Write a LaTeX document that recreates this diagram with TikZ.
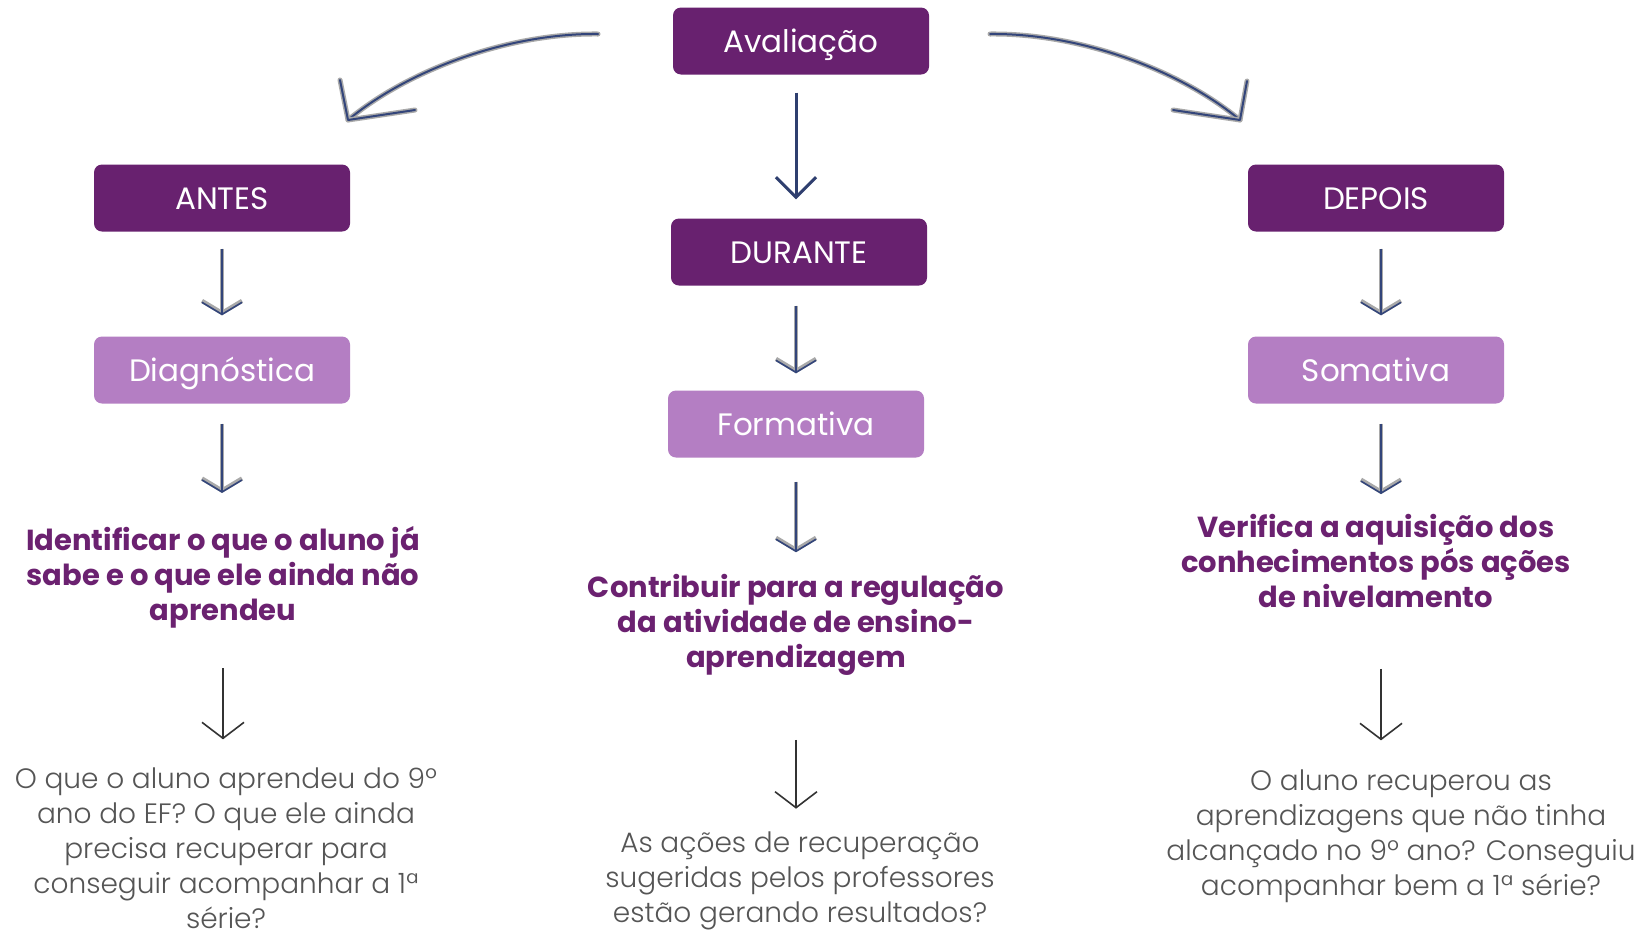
\documentclass[tikz,border=0pt]{standalone}
\usepackage{fontspec}
\setmainfont{Poppins}
\newfontfamily\lightfont{Poppins Light}
\usetikzlibrary{arrows.meta}
\definecolor{darkpurple}{HTML}{68216F}
\definecolor{lightpurple}{HTML}{B47EC3}
\definecolor{boldpurple}{HTML}{6B2170}
\definecolor{graytext}{HTML}{555555}
\definecolor{arrowblue}{HTML}{33457A}
\definecolor{halo}{HTML}{A9A9A9}
\definecolor{bigblue}{HTML}{2F3F6F}
\definecolor{darkline}{HTML}{333333}
\tikzset{
  boxbase/.style={rounded corners=8pt, minimum width=256pt, minimum height=67pt, text=white, font=\fontsize{31}{36}\selectfont, inner sep=0pt, text height=22pt, text depth=0pt},
  darkbox/.style={boxbase, fill=darkpurple},
  lightbox/.style={boxbase, fill=lightpurple},
  boldtext/.style={text=boldpurple, align=center, inner sep=0pt, font=\fontsize{29}{35}\selectfont\bfseries},
  graytxt/.style={text=graytext, align=center, inner sep=0pt, font=\fontsize{28}{35}\selectfont\lightfont},
  smallarrow/.style={draw=arrowblue, line width=1.6pt, -{Straight Barb[length=12pt,width=40pt]},
     preaction={draw=halo, line width=4.2pt, -{Straight Barb[length=12pt,width=40pt]}}},
  bigarrow/.style={draw=bigblue, line width=3pt, -{Straight Barb[length=20pt,width=40pt]}},
  blackarrow/.style={draw=darkline, line width=1.6pt, -{Straight Barb[length=16pt,width=42pt]}},
  curvearrow/.style={draw=arrowblue, line width=2pt, line cap=round, line join=round,
     preaction={draw=halo, line width=5pt, line cap=round, line join=round}}
}
\begin{document}
\begin{tikzpicture}[x=1pt, y=-1pt]
\useasboundingbox[fill=white] (0,0) rectangle (1649,935);

% boxes
\node[darkbox] (aval) at (801,41) {Avaliação};
\node[darkbox] (antes) at (222,198) {ANTES};
\node[darkbox] (durante) at (799,252) {DURANTE};
\node[darkbox] (depois) at (1376,198) {DEPOIS};
\node[lightbox] (diag) at (222,370) {Diagnóstica};
\node[lightbox] (form) at (796,424) {Formativa};
\node[lightbox] (soma) at (1376,370) {Somativa};

% bold texts
\node[boldtext] (ident) at (223,577) {Identificar o que o aluno já\\sabe e o que ele ainda não\\aprendeu};
\node[boldtext] (contrib) at (796,625) {Contribuir para a regulação\\da atividade de ensino-\\aprendizagem};
\node[boldtext] (verif) at (1376,561) {Verifica a aquisição dos\\conhecimentos pós ações\\de nivelamento};

% gray texts
\node[graytxt] (q1) at (226,848) {O que o aluno aprendeu do 9º\\ano do EF? O que ele ainda\\precisa recuperar para\\conseguir acompanhar a 1ª\\série?};
\node[graytxt] (q2) at (800,881) {As ações de recuperação\\sugeridas pelos professores\\estão gerando resultados?};
\node[graytxt] (q3) at (1401,836) {O aluno recuperou as\\aprendizagens que não tinha\\alcançado no 9º ano? Conseguiu\\acompanhar bem a 1ª série?};

% straight arrows
\draw[bigarrow, shorten <=18pt, shorten >=19pt] ([xshift=-5pt]aval.south) -- ([xshift=-5pt]aval.south |- durante.north);
\draw[smallarrow, shorten <=17pt, shorten >=21pt] (antes.south) -- (diag.north);
\draw[smallarrow, shorten <=20pt, shorten >=17pt] ([xshift=-3pt]durante.south) -- (form.north);
\draw[smallarrow, shorten <=17pt, shorten >=21pt] ([xshift=5pt]depois.south) -- ([xshift=5pt]soma.north);
\draw[smallarrow, shorten <=20pt, shorten >=33pt] (diag.south) -- (diag.south |- ident.north);
\draw[smallarrow, shorten <=24pt, shorten >=22pt] (form.south) -- (form.south |- contrib.north);
\draw[smallarrow, shorten <=20pt, shorten >=20pt] ([xshift=5pt]soma.south) -- ([xshift=5pt]soma.south |- verif.north);
\draw[blackarrow, shorten <=40pt, shorten >=28pt] (ident.south) -- (ident.south |- q1.north);
\draw[blackarrow, shorten <=64pt, shorten >=23pt] (contrib.south) -- (contrib.south |- q2.north);
\draw[blackarrow, shorten <=61pt, shorten >=29pt] ([xshift=5pt]verif.south) -- ([xshift=5pt]verif.south |- q3.north);

% curved arrows
\coordinate (lstart) at (598,34);
\coordinate (ltip) at (348,120);
\coordinate (larmA) at (340,80);
\coordinate (larmB) at (415,110);
\coordinate (rstart) at (990,34);
\coordinate (rtip) at (1240,120);
\coordinate (rarmA) at (1247,81);
\coordinate (rarmB) at (1173,110);
\draw[curvearrow] (lstart) .. controls (508,33) and (408,70) .. (ltip);
\draw[curvearrow] (larmA) -- (ltip) -- (larmB);
\draw[curvearrow] (rstart) .. controls (1080,33) and (1180,70) .. (rtip);
\draw[curvearrow] (rarmA) -- (rtip) -- (rarmB);
\end{tikzpicture}
\end{document}
